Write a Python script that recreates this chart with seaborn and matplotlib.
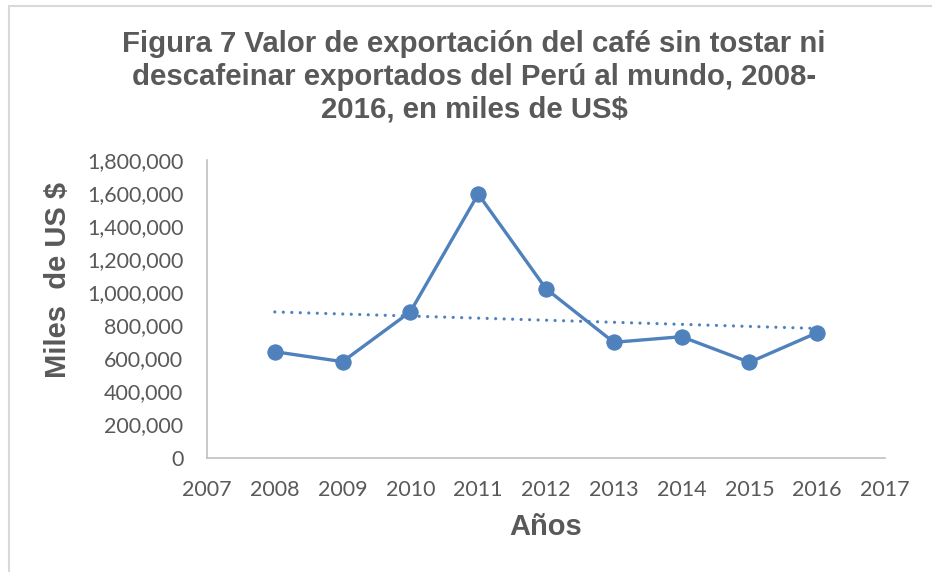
import matplotlib
matplotlib.use("Agg")
import matplotlib.pyplot as plt
import matplotlib.patches as mpatches
from matplotlib.ticker import FuncFormatter
import numpy as np
import pandas as pd
import seaborn as sns

# ---- data ----
years = [2008, 2009, 2010, 2011, 2012, 2013, 2014, 2015, 2016]
values = [640000, 580000, 882000, 1594000, 1021000, 697000, 731000, 576000, 755000]
x_ticks = list(range(2007, 2018))
y_ticks = list(range(0, 1800001, 200000))
title_text = ("Figura 7 Valor de exportación del café sin tostar ni\n"
              "descafeinar exportados del Perú al mundo, 2008-\n"
              "2016, en miles de US$")
xlabel_text = "Años"
ylabel_text = "Miles  de US $"

df = pd.DataFrame({"year": years, "value": values})

sns.set_theme(style="white")
plt.rcParams["font.family"] = ["Lato", "DejaVu Sans"]

W, H = 932, 572
fig = plt.figure(figsize=(W / 100, H / 100), dpi=100)
ax = fig.add_axes([207 / W, 1 - 457.5 / H, (885 - 207) / W, (457.5 - 160) / H])

blue = "#4F81BD"
gray_txt = "#595959"

sns.lineplot(data=df, x="year", y="value", ax=ax, color=blue, lw=2.4,
             marker="o", markersize=11, markeredgecolor=blue, zorder=3)
sns.regplot(data=df, x="year", y="value", ax=ax, scatter=False, ci=None,
            truncate=True,
            line_kws=dict(color=blue, lw=2.3, ls=(0, (0.01, 2.65)),
                          dash_capstyle="round", solid_capstyle="round", zorder=2))

ax.set_xlim(2007, 2017)
ax.set_ylim(0, 1800000)
ax.set_xticks(x_ticks)
ax.set_yticks(y_ticks)
ax.yaxis.set_major_formatter(FuncFormatter(lambda v, p: f"{int(v):,}"))
ax.tick_params(axis="both", length=0, labelsize=15.5, labelcolor=gray_txt)
ax.tick_params(axis="y", pad=17)
ax.tick_params(axis="x", pad=16)
ax.set_xlabel("")
ax.set_ylabel("")
for s in ["top", "right"]:
    ax.spines[s].set_visible(False)
for s in ["left", "bottom"]:
    ax.spines[s].set_color("#C0C0C0")
    ax.spines[s].set_linewidth(1.2)
ax.grid(False)

fig.text(474 / W, 1 - 77 / H, title_text, ha="center", va="center",
         fontsize=21.2, fontweight="bold", color=gray_txt,
         family=["Liberation Sans", "DejaVu Sans"], linespacing=1.22)
fig.text(546 / W, 1 - 527 / H, xlabel_text, ha="center", va="center",
         fontsize=21, fontweight="bold", color=gray_txt,
         family=["Liberation Sans", "DejaVu Sans"])
fig.text(58 / W, 1 - 280 / H, ylabel_text, ha="center", va="center",
         rotation=90, fontsize=21, fontweight="bold", color=gray_txt,
         family=["Liberation Sans", "DejaVu Sans"])

border = mpatches.Rectangle((9 / W, -0.1), 1.2, 1 - 6 / H + 0.1,
                            transform=fig.transFigure, fill=False,
                            edgecolor="#D9D9D9", lw=1.5, clip_on=False)
fig.patches.append(border)

fig.savefig("out.png", dpi=100)
